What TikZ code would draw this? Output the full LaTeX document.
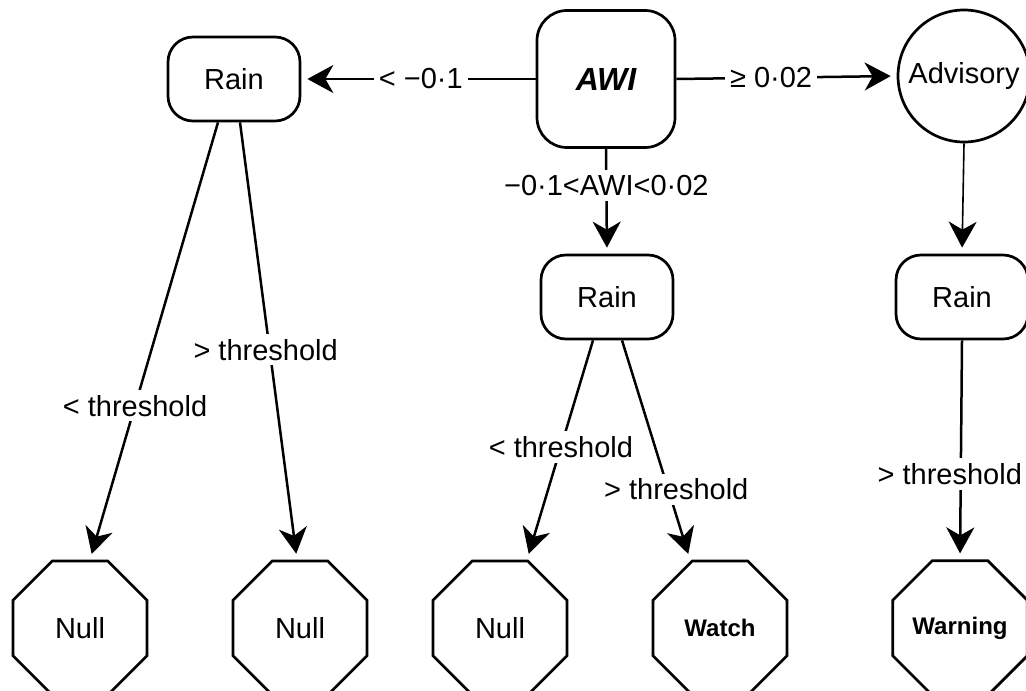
\documentclass[tikz,border=0pt]{standalone}
\usepackage{fontspec}
\setmainfont{Liberation Sans}
\usetikzlibrary{arrows.meta,shapes.geometric,calc}
\begin{document}
\begin{tikzpicture}[x=0.5pt,y=-0.5pt,
  font=\fontsize{14.5}{17}\selectfont,
  line width=1.25pt,
  box/.style={draw, line width=1.35pt, rounded corners=12.5pt,
    minimum width=66pt, minimum height=42pt, inner sep=0pt},
  octo/.style={draw, line width=1.35pt, regular polygon, regular polygon sides=8,
    minimum size=72.5pt, inner sep=0pt},
  flow/.style={-{Stealth[length=13pt,width=14pt,inset=4pt]}, shorten >=3pt},
  lab/.style={fill=white, inner sep=2.5pt},
  alerttext/.style={font=\fontsize{12}{14}\selectfont\bfseries}
]
\useasboundingbox (0,0) rectangle (1026,690);

% decision nodes
\node[box] (rainL) at (234,79) {Rain};
\node[box, minimum width=69pt, minimum height=68.5pt, rounded corners=15pt]
  (awi) at (606,79) {\fontsize{16}{19}\selectfont\bfseries\itshape AWI};
\node[draw, circle, line width=1.35pt, minimum size=66pt, inner sep=0pt]
  (adv) at (964,76) {Advisory};
\node[box] (rainM) at (607,297) {Rain};
\node[box] (rainR) at (962,297) {Rain};

% outcomes
\node[octo] (nullA) at (80,628) {Null};
\node[octo] (nullB) at (300,628) {Null};
\node[octo] (nullC) at (500,628) {Null};
\node[octo, alerttext] (watch) at (720,628) {Watch};
\node[octo, alerttext] (warn)  at (960,628) {Warning};

% first split on AWI
\draw[flow] (awi.west) -- (rainL.east) node[lab, pos=0.49] {< −0·1};
\draw[flow] (awi.east) -- (adv.west) node[lab, pos=0.43] {≥ 0·02};
\draw[flow] (awi.south) -- (rainM.north) node[lab, pos=0.35] {−0·1<AWI<0·02};
\draw[flow, line width=0.8pt] (adv.south) -- (rainR.north);

% rain thresholds, left branch
\draw[flow] ($(rainL.south)+(-16,0)$) -- ($(nullA.north)+(10,0)$)
  node[lab, pos=0.648] {< threshold};
\draw[flow] ($(rainL.south)+(6,0)$) -- ($(nullB.north)+(-3,0)$)
  node[lab, pos=0.52, xshift=-2pt] {> threshold};

% rain thresholds, middle branch
\draw[flow] ($(rainM.south)+(-14,0)$) -- ($(nullC.north)+(27,0)$)
  node[lab, pos=0.486] {< threshold};
\draw[flow] ($(rainM.south)+(15,0)$) -- ($(watch.north)+(-30,0)$)
  node[lab, pos=0.68, xshift=4pt] {> threshold};

% rain threshold, right branch
\draw[flow] (rainR.south) -- (warn.north)
  node[lab, pos=0.61, xshift=-5.5pt] {> threshold};
\end{tikzpicture}
\end{document}
